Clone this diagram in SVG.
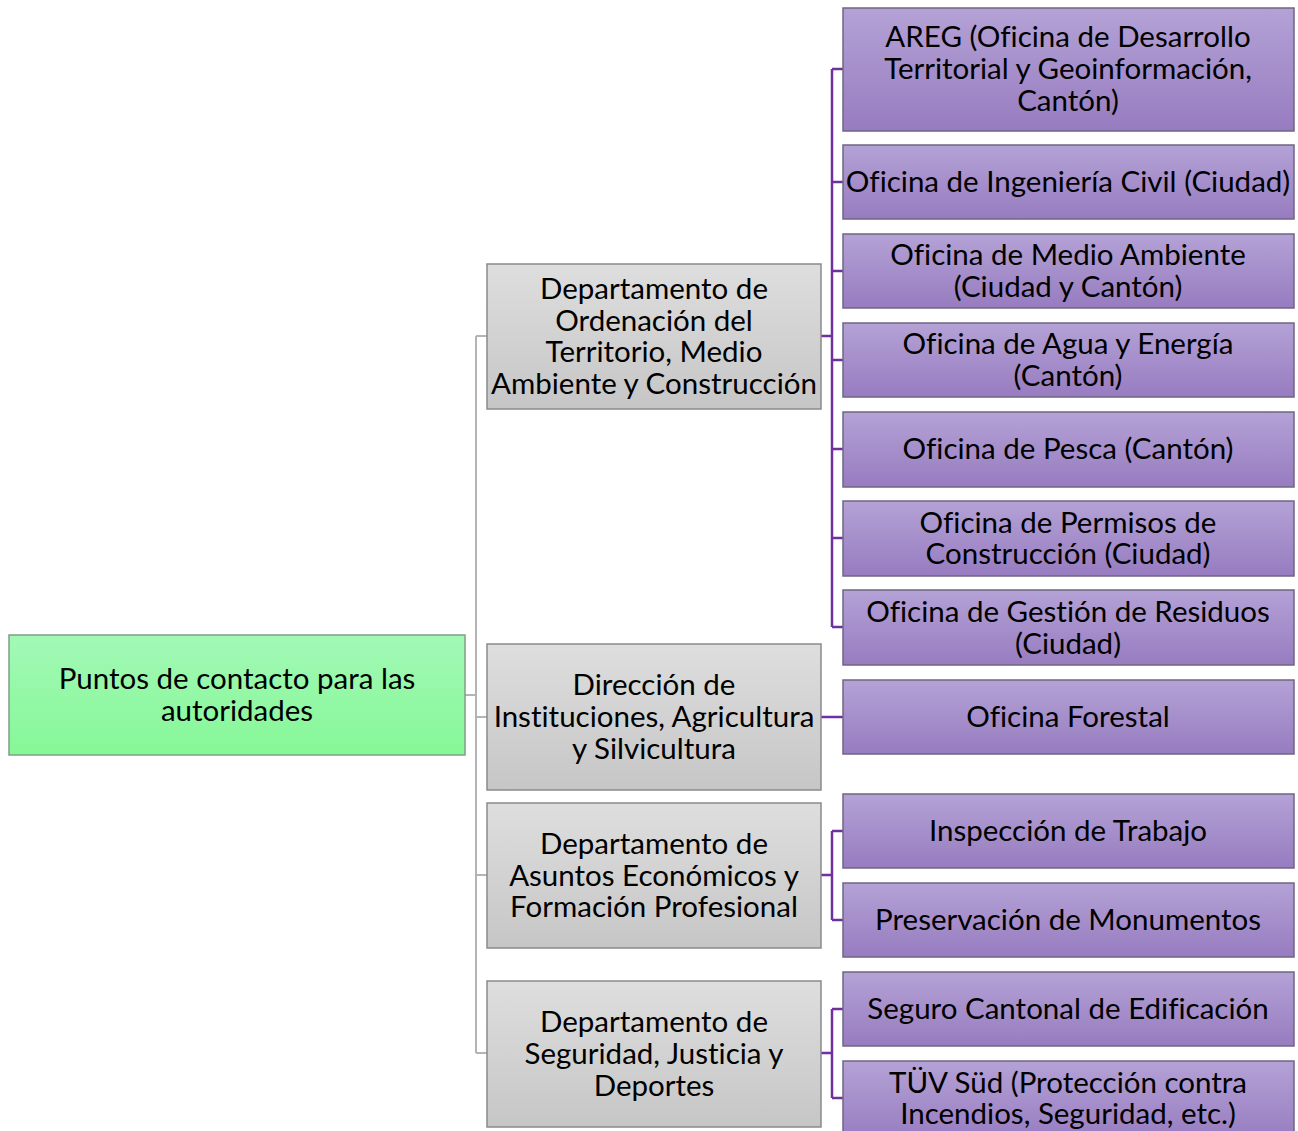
<svg xmlns="http://www.w3.org/2000/svg" width="1298" height="1131" viewBox="0 0 1298 1131">
  <defs>
    <linearGradient id="gRoot" x1="0" y1="0" x2="0" y2="1">
      <stop offset="0" stop-color="#a2f9b6"/>
      <stop offset="1" stop-color="#86f797"/>
    </linearGradient>
    <linearGradient id="gDept" x1="0" y1="0" x2="0" y2="1">
      <stop offset="0" stop-color="#dedede"/>
      <stop offset="1" stop-color="#c6c6c6"/>
    </linearGradient>
    <linearGradient id="gOff" x1="0" y1="0" x2="0" y2="1">
      <stop offset="0" stop-color="#b4a2d6"/>
      <stop offset="1" stop-color="#977cc0"/>
    </linearGradient>
    <style>
      .root { fill: url(#gRoot); stroke: #7f9f86; stroke-width: 1.5; }
      .dept { fill: url(#gDept); stroke: #8a8a8a; stroke-width: 1.5; }
      .off { fill: url(#gOff); stroke: #6f6582; stroke-width: 1.5; }
      text { font-family: Lato, "Open Sans", "Liberation Sans", sans-serif; font-size: 29.5px; fill: #000; text-anchor: middle; font-variant-ligatures: none; }
      .lnG { fill: none; stroke: #b4b4b4; stroke-width: 2; }
      .lnP { fill: none; stroke: #7030a0; stroke-width: 2.5; }
    </style>
  </defs>

  <!-- connectors -->
  <g id="connectors">
    <path class="lnG" d="M465 695 H476 M476 336 V1053 M476 336 H487 M476 717 H487 M476 875 H487 M476 1053 H487"/>
    <path class="lnP" d="M821 336 H832 M832 69 V627 M832 69 H843 M832 182 H843 M832 271 H843 M832 360 H843 M832 449 H843 M832 538 H843 M832 627 H843"/>
    <path class="lnP" d="M821 717 H843"/>
    <path class="lnP" d="M821 875 H832 M832 831 V920 M832 831 H843 M832 920 H843"/>
    <path class="lnP" d="M821 1053 H832 M832 1009 V1098 M832 1009 H843 M832 1098 H843"/>
  </g>

  <!-- root -->
  <g id="root">
    <rect class="root" x="9" y="635" width="456" height="120"/>
    <text x="237" y="689">Puntos de contacto para las</text>
    <text x="237" y="721">autoridades</text>
  </g>

  <!-- departments -->
  <g id="dept-territorio">
    <rect class="dept" x="487" y="264" width="334" height="145"/>
    <text x="654" y="299">Departamento de</text>
    <text x="654" y="331">Ordenación del</text>
    <text x="654" y="362">Territorio, Medio</text>
    <text x="654" y="394">Ambiente y Construcción</text>
  </g>
  <g id="dept-instituciones">
    <rect class="dept" x="487" y="644" width="334" height="146"/>
    <text x="654" y="695">Dirección de</text>
    <text x="654" y="727">Instituciones, Agricultura</text>
    <text x="654" y="759">y Silvicultura</text>
  </g>
  <g id="dept-economicos">
    <rect class="dept" x="487" y="803" width="334" height="145"/>
    <text x="654" y="854">Departamento de</text>
    <text x="654" y="886">Asuntos Económicos y</text>
    <text x="654" y="917">Formación Profesional</text>
  </g>
  <g id="dept-seguridad">
    <rect class="dept" x="487" y="981" width="334" height="146"/>
    <text x="654" y="1032">Departamento de</text>
    <text x="654" y="1064">Seguridad, Justicia y</text>
    <text x="654" y="1096">Deportes</text>
  </g>

  <!-- offices -->
  <g id="off-areg">
    <rect class="off" x="843" y="8" width="451" height="123"/>
    <text x="1068" y="47">AREG (Oficina de Desarrollo</text>
    <text x="1068" y="79">Territorial y Geoinformación,</text>
    <text x="1068" y="111">Cantón)</text>
  </g>
  <g id="off-ingenieria">
    <rect class="off" x="843" y="145" width="451" height="74"/>
    <text x="1068" y="192">Oficina de Ingeniería Civil (Ciudad)</text>
  </g>
  <g id="off-medioambiente">
    <rect class="off" x="843" y="234" width="451" height="74"/>
    <text x="1068" y="265">Oficina de Medio Ambiente</text>
    <text x="1068" y="297">(Ciudad y Cantón)</text>
  </g>
  <g id="off-agua">
    <rect class="off" x="843" y="323" width="451" height="74"/>
    <text x="1068" y="354">Oficina de Agua y Energía</text>
    <text x="1068" y="386">(Cantón)</text>
  </g>
  <g id="off-pesca">
    <rect class="off" x="843" y="412" width="451" height="75"/>
    <text x="1068" y="459">Oficina de Pesca (Cantón)</text>
  </g>
  <g id="off-permisos">
    <rect class="off" x="843" y="501" width="451" height="75"/>
    <text x="1068" y="533">Oficina de Permisos de</text>
    <text x="1068" y="564">Construcción (Ciudad)</text>
  </g>
  <g id="off-residuos">
    <rect class="off" x="843" y="590" width="451" height="75"/>
    <text x="1068" y="622">Oficina de Gestión de Residuos</text>
    <text x="1068" y="654">(Ciudad)</text>
  </g>
  <g id="off-forestal">
    <rect class="off" x="843" y="680" width="451" height="74"/>
    <text x="1068" y="727">Oficina Forestal</text>
  </g>
  <g id="off-trabajo">
    <rect class="off" x="843" y="794" width="451" height="74"/>
    <text x="1068" y="841">Inspección de Trabajo</text>
  </g>
  <g id="off-monumentos">
    <rect class="off" x="843" y="883" width="451" height="74"/>
    <text x="1068" y="930">Preservación de Monumentos</text>
  </g>
  <g id="off-seguro">
    <rect class="off" x="843" y="972" width="451" height="74"/>
    <text x="1068" y="1019">Seguro Cantonal de Edificación</text>
  </g>
  <g id="off-tuv">
    <rect class="off" x="843" y="1061" width="451" height="80"/>
    <text x="1068" y="1093">TÜV Süd (Protección contra</text>
    <text x="1068" y="1124">Incendios, Seguridad, etc.)</text>
  </g>
</svg>
